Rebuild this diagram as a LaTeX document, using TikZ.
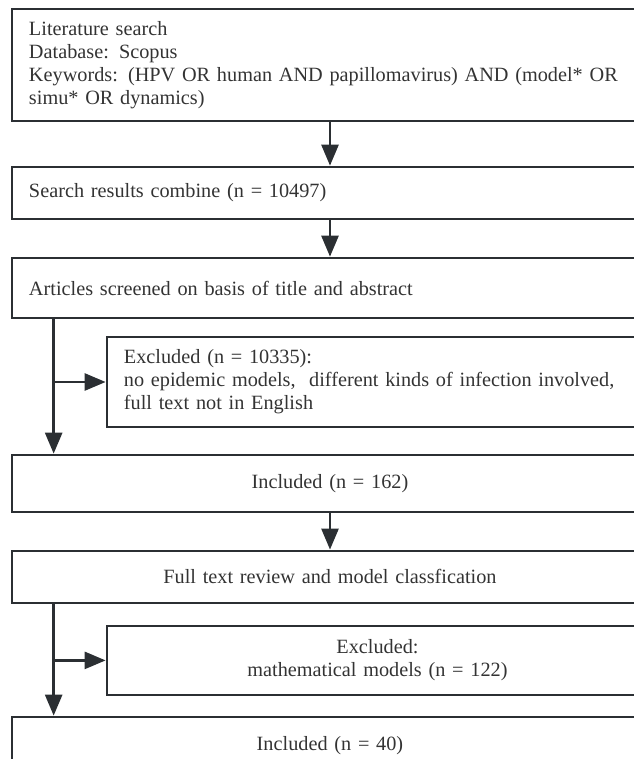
\documentclass[tikz,border=0pt]{standalone}
\usepackage{fontspec}
\setmainfont{Liberation Serif}
\usepackage{tikz}
\usetikzlibrary{arrows.meta}
\usetikzlibrary{positioning}
\definecolor{boxline}{HTML}{2B2F33}
\definecolor{boxtext}{HTML}{333333}
\tikzset{
    stage/.style={
           rectangle,
           draw=boxline, line width=2pt,
           text=boxtext,
           text width=451.5pt,
           inner xsep=12.75pt,
           font=\fontsize{15.2}{17.25}\selectfont,
           align=left,
           },
    outbox/.style={
           stage,
           text width=380.25pt,
           },
    pil/.style={
           -{Triangle[length=15.75pt,width=12.75pt]},
           draw=boxline,
           line width=2pt,}
}

\begin{document}
\begin{tikzpicture}
% Crop to the visible part (boxes run past the right and bottom edges)
\useasboundingbox (-247.5pt,48.75pt) rectangle (228pt,-520.5pt);
% Position of Literature search (SEARCH)
\node[stage, minimum height=84pt] (SEARCH) at (0,0)
{Literature search\\
Database: Scopus\\
Keywords: (HPV OR human AND papillomavirus) AND (model* OR\\
simu* OR dynamics)};
% Position of Search results (COMBINE)
\node[stage,
minimum height=39pt,
below of = SEARCH,
node distance = 96pt] (COMBINE)
{Search results combine (n = 10497)};
% Position of Screening (SCREEN)
\node[stage,
minimum height=45pt,
below of = COMBINE,
node distance = 71.25pt] (SCREEN)
{Articles screened on basis of title and abstract};
% Position of first exclusion (EXCL1)
\node[outbox,
minimum height=67.5pt,
below of = SCREEN,
node distance = 70.5pt,
xshift = 35.6pt] (EXCL1)
{Excluded (n = 10335):\\
no epidemic models,\ \ different kinds of infection involved,\\
full text not in English};
% Position of first inclusion (INCL1)
\node[stage,
minimum height=42.75pt,
align=center,
below of = SCREEN,
node distance = 146.6pt] (INCL1)
{Included (n = 162)};
% Position of Full text review (REVIEW)
\node[stage,
minimum height=39pt,
align=center,
below of = INCL1,
node distance = 70.1pt] (REVIEW)
{Full text review and model classfication};
% Position of second exclusion (EXCL2)
\node[outbox,
minimum height=51.75pt,
align=center,
below of = REVIEW,
node distance = 62.6pt,
xshift = 35.6pt] (EXCL2)
{Excluded:\\
mathematical models (n = 122)};
% Position of final inclusion (INCL2)
\node[stage,
minimum height=42.75pt,
align=center,
below of = REVIEW,
node distance = 126.4pt] (INCL2)
{Included (n = 40)};
% Draw lines on graph
\path (SEARCH) edge[pil] (COMBINE);
\path (COMBINE) edge[pil] (SCREEN);
\path (INCL1) edge[pil] (REVIEW);
\path (SCREEN.south west) ++(32.25pt,0) coordinate (SPLIT1);
\path (REVIEW.south west) ++(32.25pt,0) coordinate (SPLIT2);
\draw[pil] (SPLIT1) -- (SPLIT1 |- INCL1.north);
\draw[pil] (SPLIT1 |- EXCL1.west) -- (EXCL1.west);
\draw[pil] (SPLIT2) -- (SPLIT2 |- INCL2.north);
\draw[pil] (SPLIT2 |- EXCL2.west) -- (EXCL2.west);
\end{tikzpicture}
\end{document}
